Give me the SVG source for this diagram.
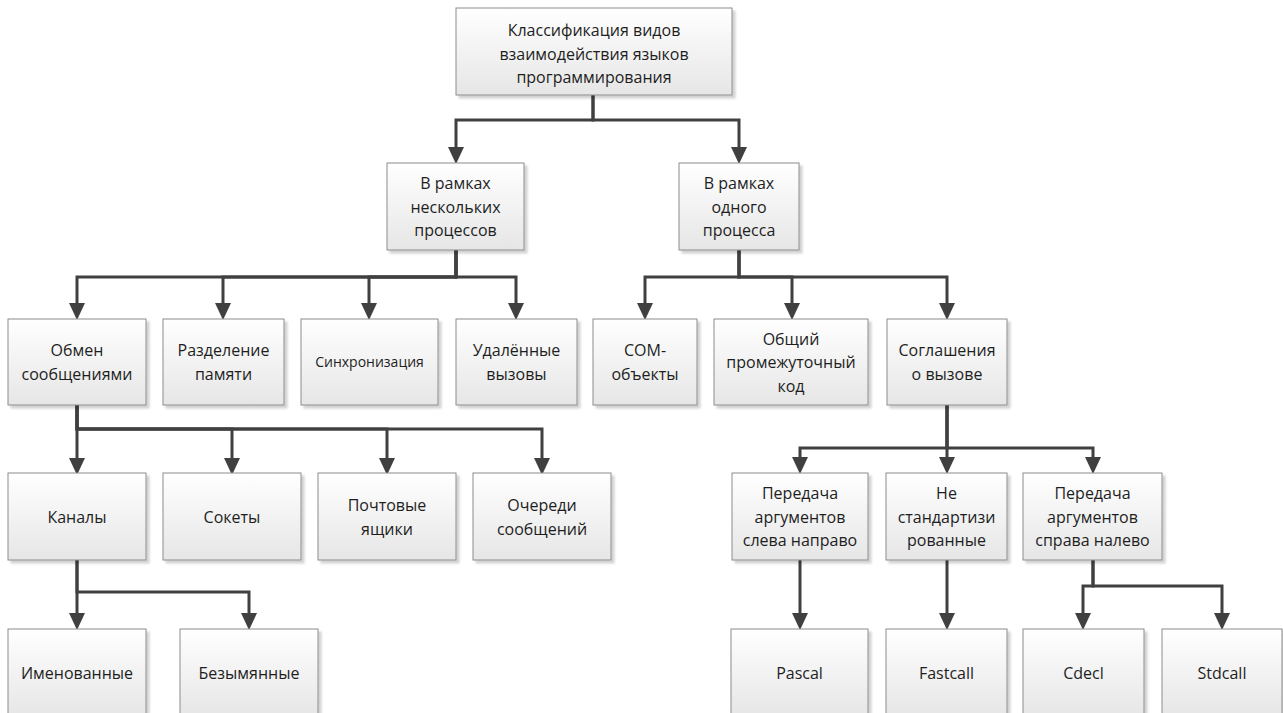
<svg xmlns="http://www.w3.org/2000/svg" width="1283" height="713" viewBox="0 0 1283 713">
<style>
.b{fill:url(#g);stroke:#8c8c8c;stroke-width:1;filter:url(#sh)}
.t{font-family:"Open Sans","Liberation Sans",sans-serif;font-size:16px;fill:#1e1e1e;text-anchor:middle}
.s{font-size:14px}
.c{fill:none;stroke:#404040;stroke-width:3;marker-end:url(#ar)}
</style>
<defs>
<linearGradient id="g" x1="0" y1="0" x2="0" y2="1">
<stop offset="0" stop-color="#ffffff"/>
<stop offset="1" stop-color="#e6e6e6"/>
</linearGradient>
<filter id="sh" x="-10%" y="-10%" width="130%" height="130%">
<feDropShadow dx="3" dy="3" stdDeviation="1.2" flood-color="#000" flood-opacity="0.18"/>
</filter>
<marker id="ar" markerUnits="userSpaceOnUse" markerWidth="17" markerHeight="16" refX="8" refY="8" orient="auto" viewBox="0 0 17 16">
<path d="M0,0 L17,8 L0,16 z" fill="#404040"/>
</marker>
</defs>
<g id="connectors">
<path class="c" d="M593,95 V120 H456 V155"/>
<path class="c" d="M593,95 V120 H739 V155"/>
<path class="c" d="M456,250 V277 H77 V311"/>
<path class="c" d="M456,250 V277 H223 V311"/>
<path class="c" d="M456,250 V277 H369 V311"/>
<path class="c" d="M456,250 V277 H516 V311"/>
<path class="c" d="M739,250 V277 H645 V311"/>
<path class="c" d="M739,250 V277 H792 V311"/>
<path class="c" d="M739,250 V277 H947 V311"/>
<path class="c" d="M77,405 V429 V466"/>
<path class="c" d="M77,405 V429 H232 V466"/>
<path class="c" d="M77,405 V429 H387 V466"/>
<path class="c" d="M77,405 V429 H542 V466"/>
<path class="c" d="M947,405 V448 H800 V465"/>
<path class="c" d="M947,405 V448 V465"/>
<path class="c" d="M947,405 V448 H1093 V465"/>
<path class="c" d="M77,560 V592 V621"/>
<path class="c" d="M77,560 V592 H249 V621"/>
<path class="c" d="M800,560 V621"/>
<path class="c" d="M947,560 V621"/>
<path class="c" d="M1093,560 V586 H1083 V621"/>
<path class="c" d="M1093,560 V586 H1222 V621"/>
</g>
<g id="n-root"><rect class="b" x="456" y="8" width="276" height="87"/>
<text class="t" x="594" y="36">Классификация видов</text>
<text class="t" x="594" y="59.5">взаимодействия языков</text>
<text class="t" x="594" y="83">программирования</text></g>
<g id="n-multi"><rect class="b" x="387" y="163" width="137" height="87"/>
<text class="t" x="455.5" y="189">В рамках</text>
<text class="t" x="455.5" y="212.5">нескольких</text>
<text class="t" x="455.5" y="236">процессов</text></g>
<g id="n-single"><rect class="b" x="679" y="163" width="120" height="87"/>
<text class="t" x="739" y="189">В рамках</text>
<text class="t" x="739" y="212.5">одного</text>
<text class="t" x="739" y="236">процесса</text></g>
<g id="n-msg"><rect class="b" x="8" y="319" width="138" height="86"/>
<text class="t" x="77" y="356">Обмен</text>
<text class="t" x="77" y="379.5">сообщениями</text></g>
<g id="n-shmem"><rect class="b" x="163" y="319" width="121" height="86"/>
<text class="t" x="223.5" y="356">Разделение</text>
<text class="t" x="223.5" y="379.5">памяти</text></g>
<g id="n-sync"><rect class="b" x="301" y="319" width="137" height="86"/>
<text class="t s" x="369.5" y="367">Синхронизация</text></g>
<g id="n-rpc"><rect class="b" x="456" y="319" width="121" height="86"/>
<text class="t" x="516.5" y="356">Удалённые</text>
<text class="t" x="516.5" y="379.5">вызовы</text></g>
<g id="n-com"><rect class="b" x="593" y="319" width="104" height="86"/>
<text class="t" x="645" y="356">COM-</text>
<text class="t" x="645" y="379.5">объекты</text></g>
<g id="n-il"><rect class="b" x="714" y="319" width="154" height="86"/>
<text class="t" x="791" y="344.5">Общий</text>
<text class="t" x="791" y="368">промежуточный</text>
<text class="t" x="791" y="391.5">код</text></g>
<g id="n-conv"><rect class="b" x="887" y="319" width="120" height="86"/>
<text class="t" x="947" y="356">Соглашения</text>
<text class="t" x="947" y="379.5">о вызове</text></g>
<g id="n-pipes"><rect class="b" x="8" y="473" width="138" height="87"/>
<text class="t" x="77" y="522.5">Каналы</text></g>
<g id="n-sock"><rect class="b" x="163" y="473" width="138" height="87"/>
<text class="t" x="232" y="522.5">Сокеты</text></g>
<g id="n-mail"><rect class="b" x="318" y="473" width="138" height="87"/>
<text class="t" x="387" y="511">Почтовые</text>
<text class="t" x="387" y="534.5">ящики</text></g>
<g id="n-queue"><rect class="b" x="473" y="473" width="138" height="87"/>
<text class="t" x="542" y="511">Очереди</text>
<text class="t" x="542" y="534.5">сообщений</text></g>
<g id="n-ltr"><rect class="b" x="732" y="473" width="136" height="87"/>
<text class="t" x="800" y="499">Передача</text>
<text class="t" x="800" y="522.5">аргументов</text>
<text class="t" x="800" y="546">слева направо</text></g>
<g id="n-nonstd"><rect class="b" x="886" y="473" width="121" height="87"/>
<text class="t" x="946.5" y="499">Не</text>
<text class="t" x="946.5" y="522.5">стандартизи</text>
<text class="t" x="946.5" y="546">рованные</text></g>
<g id="n-rtl"><rect class="b" x="1023" y="473" width="139" height="87"/>
<text class="t" x="1092.5" y="499">Передача</text>
<text class="t" x="1092.5" y="522.5">аргументов</text>
<text class="t" x="1092.5" y="546">справа налево</text></g>
<g id="n-named"><rect class="b" x="8" y="629" width="138" height="87"/>
<text class="t" x="77" y="678.5">Именованные</text></g>
<g id="n-anon"><rect class="b" x="180" y="629" width="138" height="87"/>
<text class="t" x="249" y="678.5">Безымянные</text></g>
<g id="n-pascal"><rect class="b" x="731" y="629" width="137" height="87"/>
<text class="t" x="799.5" y="678.5">Pascal</text></g>
<g id="n-fast"><rect class="b" x="886" y="629" width="121" height="87"/>
<text class="t" x="946.5" y="678.5">Fastcall</text></g>
<g id="n-cdecl"><rect class="b" x="1023" y="629" width="121" height="87"/>
<text class="t" x="1083.5" y="678.5">Cdecl</text></g>
<g id="n-std"><rect class="b" x="1162" y="629" width="120" height="87"/>
<text class="t" x="1222" y="678.5">Stdcall</text></g>
</svg>
